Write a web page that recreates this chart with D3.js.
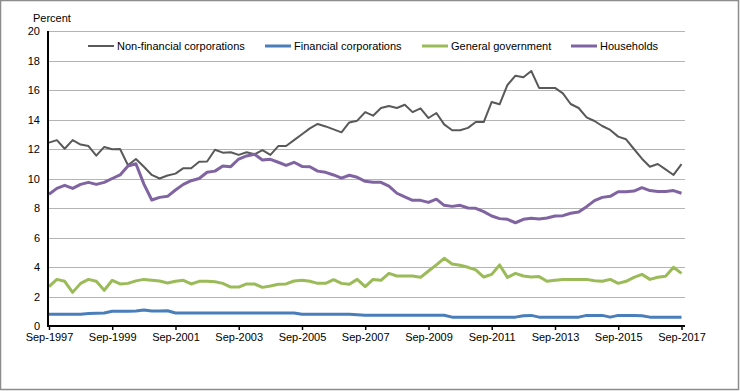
<!DOCTYPE html>
<html>
<head>
<meta charset="utf-8">
<script src="https://cdn.jsdelivr.net/npm/d3@7"></script>
<style>
  body { margin: 0; background: #fff; }
  svg { display: block; font-family: Arial, "Liberation Sans", sans-serif; }
</style>
</head>
<body>
<svg id="chart"></svg>
<script>
// quarterly, Sep-1997 .. Sep-2017 (81 quarters)
const startQuarter = '1997-09';
const endQuarter = '2017-09';

const seriesNames = ['Non-financial corporations', 'Financial corporations', 'General government', 'Households'];

const nonFinancial = [12.43,12.6,12.02,12.6,12.3,12.2,11.55,12.14,11.98,12.0,
    10.9,11.32,10.8,10.24,10.0,10.2,10.33,10.7,10.7,11.14,
    11.15,11.95,11.75,11.78,11.6,11.78,11.64,11.93,11.6,12.2,
    12.2,12.6,13.0,13.4,13.7,13.53,13.33,13.13,13.8,13.92,
    14.5,14.26,14.78,14.92,14.78,15.0,14.5,14.76,14.1,14.44,
    13.67,13.27,13.27,13.43,13.83,13.83,15.19,15.03,16.34,16.97,
    16.86,17.29,16.14,16.14,16.14,15.77,15.05,14.78,14.15,13.9,
    13.56,13.29,12.84,12.66,12.0,11.34,10.8,10.98,10.62,10.24,10.98];

const financial = [0.8,0.8,0.8,0.8,0.8,0.85,0.87,0.88,1.0,1.0,
    1.0,1.02,1.08,1.02,1.02,1.03,0.88,0.88,0.88,0.88,
    0.88,0.88,0.88,0.88,0.88,0.88,0.88,0.88,0.88,0.88,
    0.88,0.88,0.79,0.79,0.79,0.79,0.79,0.79,0.79,0.76,
    0.73,0.73,0.73,0.73,0.73,0.73,0.73,0.73,0.73,0.73,
    0.73,0.6,0.6,0.6,0.6,0.6,0.6,0.6,0.6,0.6,
    0.7,0.72,0.6,0.6,0.6,0.6,0.6,0.6,0.72,0.72,
    0.72,0.6,0.72,0.72,0.72,0.7,0.6,0.6,0.6,0.6,0.6];

const generalGov = [2.67,3.16,3.03,2.28,2.89,3.16,3.03,2.42,3.1,2.85,
    2.89,3.06,3.16,3.1,3.05,2.92,3.03,3.1,2.85,3.03,
    3.03,3.0,2.89,2.64,2.64,2.85,2.85,2.62,2.71,2.83,
    2.85,3.05,3.1,3.03,2.89,2.89,3.14,2.89,2.83,3.16,
    2.67,3.16,3.1,3.57,3.39,3.39,3.39,3.3,3.73,4.14,
    4.59,4.2,4.12,3.98,3.8,3.32,3.5,4.14,3.3,3.57,
    3.39,3.32,3.35,3.03,3.1,3.16,3.16,3.16,3.16,3.07,
    3.03,3.16,2.89,3.03,3.3,3.5,3.16,3.3,3.37,3.98,3.57];

const households = [8.93,9.33,9.54,9.33,9.6,9.74,9.6,9.74,10.0,10.24,
    10.85,11.0,9.62,8.54,8.72,8.79,9.22,9.6,9.85,10.0,
    10.42,10.5,10.85,10.8,11.32,11.53,11.64,11.25,11.3,11.1,
    10.89,11.1,10.82,10.8,10.5,10.42,10.24,10.03,10.22,10.08,
    9.81,9.74,9.74,9.49,9.0,8.75,8.52,8.52,8.38,8.6,
    8.18,8.11,8.18,8.0,7.98,7.75,7.46,7.28,7.23,7.0,
    7.23,7.3,7.25,7.32,7.46,7.48,7.64,7.73,8.09,8.5,
    8.72,8.79,9.1,9.1,9.15,9.38,9.18,9.12,9.12,9.18,9.0];

const yTicks = [0,2,4,6,8,10,12,14,16,18,20];
const xTickLabels = ['Sep-1997','Sep-1999','Sep-2001','Sep-2003','Sep-2005','Sep-2007',
    'Sep-2009','Sep-2011','Sep-2013','Sep-2015','Sep-2017'];

class LineChart {
    constructor (config, data) {
        this.config = {
            parent: config.parent,
            width: config.width || 740,
            height: config.height || 391,
            plot: config.plot,
            ylabel: config.ylabel || ''
        };
        this.data = data;
        this.init();
    }

    init() {
        let self = this;
        const p = self.config.plot;

        self.svg = d3.select(self.config.parent)
            .attr('width', self.config.width)
            .attr('height', self.config.height);

        // outer frame
        self.svg.append('rect')
            .attr('x', 0.5).attr('y', 0.5)
            .attr('width', self.config.width - 2)
            .attr('height', self.config.height - 2)
            .attr('fill', '#fff')
            .attr('stroke', '#8c8c8c')
            .attr('stroke-width', 1.5);

        const parse = d3.timeParse('%Y-%m');
        self.dates = d3.timeMonth.range(parse(startQuarter), d3.timeMonth.offset(parse(endQuarter), 1), 3);

        self.xscale = d3.scaleTime()
            .domain([parse(startQuarter), parse(endQuarter)])
            .range([p.x0, p.x1]);

        self.yscale = d3.scaleLinear()
            .domain([0, 20])
            .range([p.y0, p.y1]);

        self.grid = self.svg.append('g');
        self.lines = self.svg.append('g');
        self.yaxis_group = self.svg.append('g')
            .attr('transform', `translate(${p.x0 - 1}, 0)`);
        self.xaxis_group = self.svg.append('g')
            .attr('transform', `translate(0, ${p.y0})`);
        self.legend = self.svg.append('g');

        self.svg.append('text')
            .attr('x', 33)
            .attr('y', 22)
            .style('font-size', '11px')
            .attr('fill', '#000')
            .text(self.config.ylabel);
    }

    update() {
        let self = this;
        self.series = self.data.map(s => ({
            name: s.name, color: s.color, width: s.width,
            values: s.values.map((v, i) => ({date: self.dates[i], value: v}))
        }));
        self.render();
    }

    render() {
        let self = this;
        const p = self.config.plot;

        self.grid.selectAll('line')
            .data(yTicks.filter(d => d > 0))
            .join('line')
            .attr('x1', p.x0)
            .attr('x2', p.gridEnd)
            .attr('y1', d => Math.round(self.yscale(d)) + 0.5)
            .attr('y2', d => Math.round(self.yscale(d)) + 0.5)
            .attr('stroke', '#b4b4b4')
            .attr('stroke-width', 1);

        const line = d3.line()
            .x(d => self.xscale(d.date))
            .y(d => self.yscale(d.value));

        self.lines.selectAll('path')
            .data(self.series)
            .join('path')
            .attr('fill', 'none')
            .attr('stroke', d => d.color)
            .attr('stroke-width', d => d.width)
            .attr('stroke-linejoin', 'round')
            .attr('d', d => line(d.values));

        self.yaxis_group.call(d3.axisLeft(self.yscale)
            .tickValues(yTicks)
            .tickSize(0)
            .tickPadding(8));
        self.yaxis_group.select('.domain').attr('stroke', '#000').attr('stroke-width', 2)
            .attr('d', `M0,${p.y0 + 1}V${p.y1}`);

        const fmt = d3.timeFormat('%b-%Y');
        const tickDates = self.dates.filter(d => xTickLabels.includes(fmt(d)));
        self.xaxis_group.call(d3.axisBottom(self.xscale)
            .tickValues(tickDates)
            .tickFormat(fmt)
            .tickSizeOuter(0)
            .tickSize(4)
            .tickPadding(3));
        self.xaxis_group.select('.domain').attr('stroke', '#000').attr('stroke-width', 2)
            .attr('d', `M${p.x0 - 1},0H${p.gridEnd}`);
        self.xaxis_group.selectAll('.tick line').attr('stroke', '#000').attr('stroke-width', 1.5);

        self.svg.selectAll('.tick text')
            .style('font-size', '11px')
            .style('font-family', 'Arial, "Liberation Sans", sans-serif')
            .attr('fill', '#000');

        // legend
        const legendX = [88, 265, 422, 571];
        const items = self.legend.selectAll('g')
            .data(self.series)
            .join('g')
            .attr('transform', (d, i) => `translate(${legendX[i]}, 46)`);
        items.append('line')
            .attr('x1', 0).attr('x2', 26)
            .attr('stroke', d => d.color)
            .attr('stroke-width', d => d.width);
        items.append('text')
            .attr('x', 29)
            .attr('dy', '0.35em')
            .style('font-size', '11px')
            .attr('fill', '#000')
            .text(d => d.name);
    }
}

const chart = new LineChart({
    parent: '#chart',
    width: 740,
    height: 391,
    plot: {x0: 49, x1: 681.5, gridEnd: 685, y0: 326, y1: 31},
    ylabel: 'Percent'
}, [
    {name: seriesNames[0], values: nonFinancial, color: '#595959', width: 2},
    {name: seriesNames[1], values: financial, color: '#4a7ebb', width: 3},
    {name: seriesNames[2], values: generalGov, color: '#9bbb59', width: 3},
    {name: seriesNames[3], values: households, color: '#8064a2', width: 3}
]);
chart.update();
</script>
</body>
</html>
